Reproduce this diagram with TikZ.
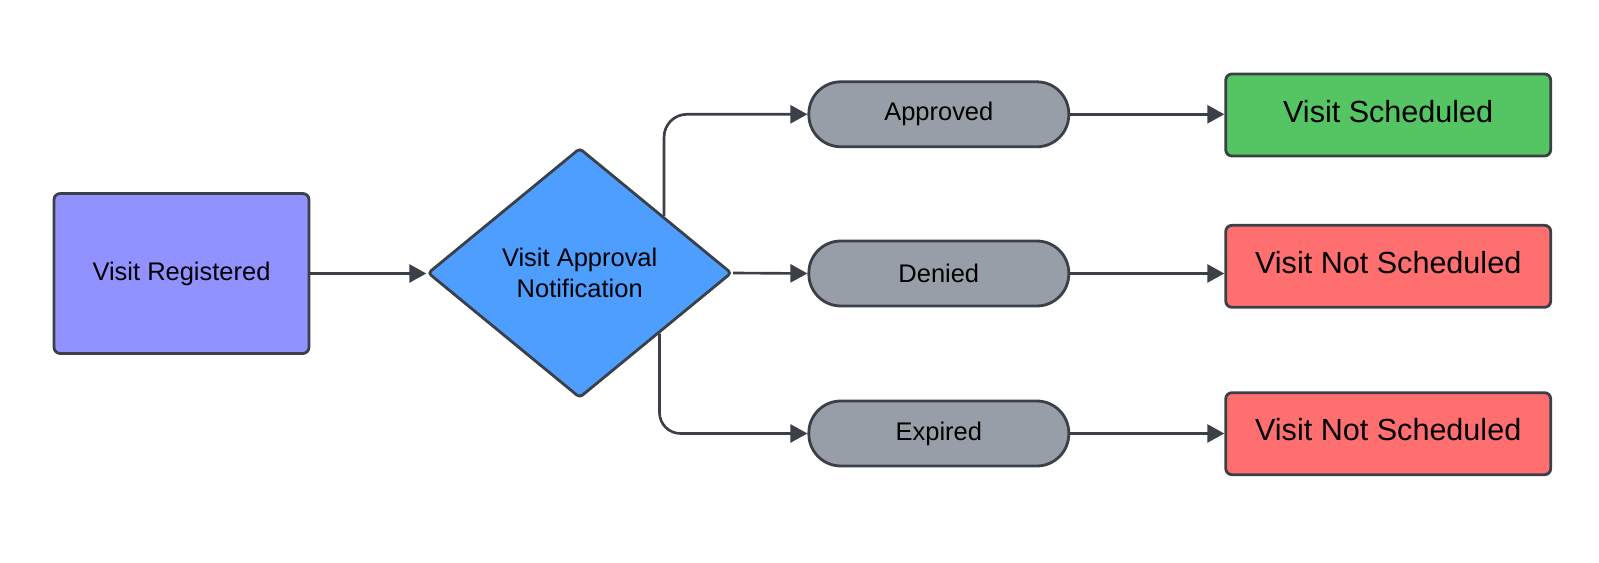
\documentclass[tikz,border=0pt]{standalone}
\usepackage{fontspec}
\setmainfont{Liberation Sans}
\usetikzlibrary{shapes.geometric,arrows.meta,calc}

\definecolor{edgegray}{HTML}{3B4048}
\definecolor{regblue}{HTML}{9191FF}
\definecolor{notifblue}{HTML}{4D9EFF}
\definecolor{pillgray}{HTML}{979EA8}
\definecolor{okgreen}{HTML}{55C462}
\definecolor{nored}{HTML}{FF6F6F}

\begin{document}
\begin{tikzpicture}[x=0.02cm, y=-0.02cm, >={Triangle[length=3.4mm, width=3.6mm]},
  every node/.style={font=\fontsize{14.5pt}{17.4pt}\selectfont}, align=center,
  box/.style={draw=edgegray, line width=1.6pt, rounded corners=3.5pt},
  pill/.style={draw=edgegray, line width=1.6pt, fill=pillgray, rounded corners=0.64cm, minimum width=5.2cm, minimum height=1.3cm},
  result/.style={box, minimum width=6.5cm, minimum height=1.64cm, font=\fontsize{17.4pt}{20pt}\selectfont, text depth=4.5pt},
  conn/.style={->, draw=edgegray, line width=1.5pt}]

\useasboundingbox (0,0) rectangle (1599,563);

% Nodes
\node (reg) [box, fill=regblue, minimum width=5.1cm, minimum height=3.2cm] at (181.5,273.5) {Visit Registered};
\node (notif) [diamond, draw=edgegray, line width=1.6pt, fill=notifblue, rounded corners=2pt, inner sep=0pt, minimum width=6.08cm, minimum height=5cm] at (579.7,273) {Visit Approval\\Notification};

\node (approved) [pill] at (938.8,114.3) {Approved};
\node (denied) [pill] at (938.8,273.5) {Denied};
\node (expired) [pill] at (938.8,433.5) {Expired};

\node (sched) [result, fill=okgreen] at (1388.2,115) {Visit Scheduled};
\node (nsched1) [result, fill=nored] at (1388.2,266.3) {Visit Not Scheduled};
\node (nsched2) [result, fill=nored] at (1388.2,433.7) {Visit Not Scheduled};

% Arrows
\draw[conn] (reg.east) -- (reg.east -| notif.west);
\draw[conn, rounded corners=13pt] ($(notif.north)!0.55!(notif.east)$) |- (approved.west);
\draw[conn] (notif.east) -- (denied.west);
\draw[conn, rounded corners=12pt] ($(notif.south)!0.52!(notif.east)$) |- (expired.west);

\draw[conn] (approved.east) -- (approved.east -| sched.west);
\draw[conn] (denied.east) -- (denied.east -| nsched1.west);
\draw[conn] (expired.east) -- (expired.east -| nsched2.west);

\end{tikzpicture}
\end{document}
